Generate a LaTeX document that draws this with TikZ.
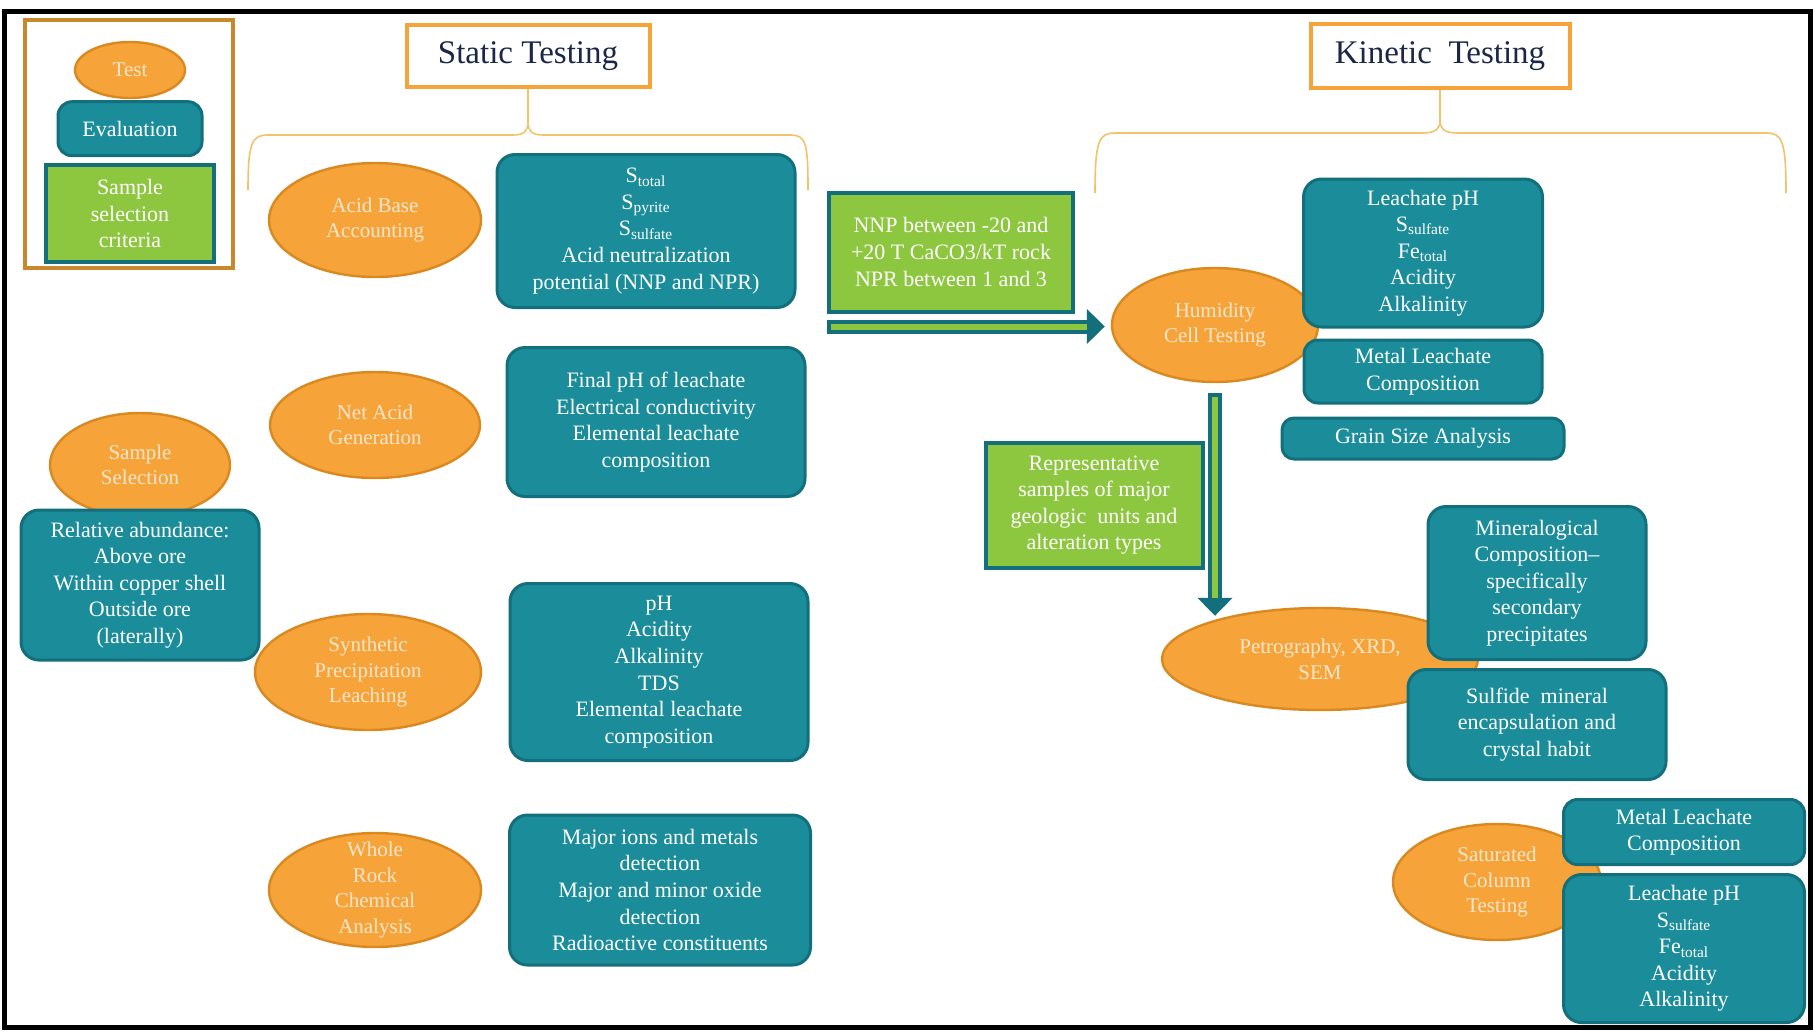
\documentclass[tikz,border=0pt]{standalone}
\usepackage{fontspec}
\setmainfont{Liberation Serif}
\usepackage{tikz}
\usetikzlibrary{positioning,shapes.geometric,arrows.meta}
\usepackage{xcolor}
\definecolor{orangefill}{HTML}{F6A43A}
\definecolor{orangeline}{HTML}{D9891F}
\definecolor{ovaltext}{HTML}{FBE6CC}
\definecolor{tealfill}{HTML}{1B8C9A}
\definecolor{tealline}{HTML}{136F7C}
\definecolor{greenfill}{HTML}{8DC63F}
\definecolor{legendline}{HTML}{C8892C}
\definecolor{bracegold}{HTML}{F2C36B}
\definecolor{headink}{HTML}{1B2747}
\newcommand{\boxfont}{\rmfamily\fontsize{11}{13.3}\selectfont}
\newcommand{\ovalfont}{\rmfamily\fontsize{10.5}{12.8}\selectfont}

\begin{document}
\begin{tikzpicture}[x=0.5pt, y=-0.5pt, every node/.style={inner sep=0pt},
  test/.style={ellipse, draw=orangeline, line width=1.2pt, fill=orangefill, text=ovaltext,
    font=\ovalfont, align=center, inner ysep=-14pt},
  evalbox/.style={rectangle, rounded corners=9pt, draw=tealline, line width=1.5pt,
    fill=tealfill, text=white, font=\boxfont, align=center},
  critbox/.style={rectangle, draw=tealline, line width=2pt, fill=greenfill, text=white,
    font=\boxfont, align=center},
  headbox/.style={rectangle, draw=orangefill, line width=2pt, fill=white, text=headink,
    font=\rmfamily\fontsize{16.5}{20}\selectfont},
  brace/.style={draw=bracegold, line width=0.8pt},
  flowline/.style={draw=tealline, line width=7pt, -{Triangle[width=17pt,length=9pt]}},
  flowcore/.style={draw=greenfill, line width=3pt, shorten <=2pt, shorten >=9pt}]
\useasboundingbox (0,0) rectangle (1813,1030);
\fill[white] (0,0) rectangle (1813,1030);
\draw[line width=2.5pt] (4,11) rectangle (1810,1027);

% 1. legend
\draw[legendline, line width=2pt] (25,20) rectangle (233,268);
\node[test, minimum width=55pt, minimum height=28pt] (keyTest) at (130,70) {Test};
\node[evalbox, rounded corners=7pt, minimum width=72pt, minimum height=27pt, below=0.5pt of keyTest] (keyEval) {Evaluation};
\node[critbox, minimum width=84pt, minimum height=48.5pt, below=3pt of keyEval] (keyCrit) {Sample\\selection\\criteria};

% 2. the two headings and their braces
\node[headbox, minimum width=121.5pt, minimum height=31pt] (statT) at (528,56) {Static Testing};
\node[headbox, minimum width=129.5pt, minimum height=32pt] (kinT) at (1440,56) {Kinetic\ \ Testing};
\coordinate (statC) at (528,122);
\coordinate (kinC) at (1440,120);
\draw[brace] (248,190) .. controls (248,142) and (252,135) .. (268,135) -- (513,135)
  .. controls (524,135) and (528,131) .. (statC) .. controls (528,131) and (532,135) .. (543,135)
  -- (790,135) .. controls (806,135) and (808,142) .. (808,190);
\draw[brace] (statC) -- (statT.south);
\draw[brace] (1095,193) .. controls (1095,140) and (1099,133) .. (1115,133) -- (1422,133)
  .. controls (1436,133) and (1440,129) .. (kinC) .. controls (1440,129) and (1444,133) .. (1458,133)
  -- (1766,133) .. controls (1782,133) and (1786,140) .. (1786,193);
\draw[brace] (kinC) -- (kinT.south);

% 3. tests (ellipses first, so the boxes sit on top)
\node[test, minimum width=106pt, minimum height=57pt] (abaT) at (375,220) {Acid Base\\Accounting};
\node[test, minimum width=105pt, minimum height=53pt] (nagT) at (375,425) {Net Acid\\Generation};
\node[test, minimum width=90pt, minimum height=52pt] (selT) at (140,465) {Sample\\Selection};
\node[test, minimum width=113pt, minimum height=58pt] (splpT) at (368,672) {Synthetic\\Precipitation\\Leaching};
\node[test, minimum width=106pt, minimum height=57pt] (wrcaT) at (375,890) {Whole\\Rock\\Chemical\\Analysis};
\node[test, minimum width=103pt, minimum height=57pt] (humT) at (1215,325) {Humidity\\Cell Testing};
\node[test, minimum width=158pt, minimum height=51pt] (petT) at (1320,659) {Petrography, XRD,\\SEM};
\node[test, minimum width=104pt, minimum height=58pt] (satT) at (1497,882) {Saturated\\Column\\Testing};

% 4. static evaluations
\node[evalbox, minimum width=149pt, minimum height=76.5pt] (abaE) at (646,231)
  {S\textsubscript{total}\\S\textsubscript{pyrite}\\S\textsubscript{sulfate}\\Acid neutralization\\potential (NNP and NPR)};
\node[evalbox, minimum width=149pt, minimum height=74.5pt] (nagE) at (656,422)
  {Final pH of leachate\\Electrical conductivity\\Elemental leachate\\composition};
\node[evalbox, minimum width=119pt, minimum height=75pt] (selE) at (140,585)
  {Relative abundance:\\Above ore\\Within copper shell\\Outside ore\\(laterally)};
\node[evalbox, minimum width=149pt, minimum height=88.5pt] (splpE) at (659,672)
  {pH\\Acidity\\Alkalinity\\TDS\\Elemental leachate\\composition};
\node[evalbox, minimum width=150.5pt, minimum height=75pt] (wrcaE) at (660,890)
  {Major ions and metals\\detection\\Major and minor oxide\\detection\\Radioactive constituents};

% 5. kinetic evaluations
\node[evalbox, minimum width=119.5pt, minimum height=74pt] (humE1) at (1423,253)
  {Leachate pH\\S\textsubscript{sulfate}\\Fe\textsubscript{total}\\Acidity\\Alkalinity};
\node[evalbox, rounded corners=7pt, minimum width=119pt, minimum height=31.5pt, below=5pt of humE1] (humE2)
  {Metal Leachate\\Composition};
\node[evalbox, rounded corners=6pt, minimum width=141pt, minimum height=20.5pt, below=6pt of humE2] (humE3)
  {Grain Size Analysis};
\node[evalbox, minimum width=109pt, minimum height=76.5pt] (petE1) at (1537,583)
  {Mineralogical\\Composition--\\specifically\\secondary\\precipitates};
\node[evalbox, minimum width=129pt, minimum height=55pt, below=3.5pt of petE1] (petE2)
  {Sulfide\ \ mineral\\encapsulation and\\crystal habit};
\node[evalbox, rounded corners=7pt, minimum width=120.5pt, minimum height=32.5pt] (satE1) at (1684,832)
  {Metal Leachate\\Composition};
\node[evalbox, minimum width=120.5pt, minimum height=74pt, below=3.5pt of satE1] (satE2)
  {Leachate pH\\S\textsubscript{sulfate}\\Fe\textsubscript{total}\\Acidity\\Alkalinity};

% 6. selection criteria and the flow between tests
\node[critbox, minimum width=122pt, minimum height=59.5pt] (nnpC) at (951,252)
  {NNP between -20 and\\+20 T CaCO3/kT rock\\NPR between 1 and 3};
\node[critbox, minimum width=108.5pt, minimum height=62.5pt] (repC) at (1094,505)
  {Representative\\samples of major\\geologic\ \ units and\\alteration types};
\coordinate (hStart) at ([yshift=-6.5pt]nnpC.south west);
\draw[flowline, shorten >=3pt] (hStart) -- (hStart -| humT.west);
\draw[flowcore, shorten >=12pt] (hStart) -- (hStart -| humT.west);
\draw[flowline] ([yshift=-5pt]humT.south) -- ([yshift=-4.5pt]humT.south |- petT.north);
\draw[flowcore] ([yshift=-5pt]humT.south) -- ([yshift=-4.5pt]humT.south |- petT.north);
\end{tikzpicture}
\end{document}
